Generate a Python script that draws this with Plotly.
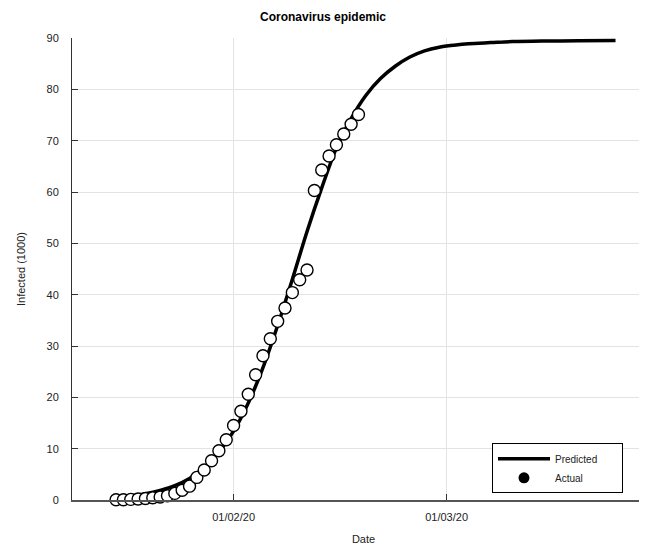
import plotly.graph_objects as go

# Actual cumulative infections (thousands), daily from 2020-01-16
actual_dates = ["2020-01-16", "2020-01-17", "2020-01-18", "2020-01-19", "2020-01-20",
                "2020-01-21", "2020-01-22", "2020-01-23", "2020-01-24", "2020-01-25",
                "2020-01-26", "2020-01-27", "2020-01-28", "2020-01-29", "2020-01-30",
                "2020-01-31", "2020-02-01", "2020-02-02", "2020-02-03", "2020-02-04",
                "2020-02-05", "2020-02-06", "2020-02-07", "2020-02-08", "2020-02-09",
                "2020-02-10", "2020-02-11", "2020-02-12", "2020-02-13", "2020-02-14",
                "2020-02-15", "2020-02-16", "2020-02-17", "2020-02-18"]
actual_values = [0.05, 0.06, 0.12, 0.2, 0.29, 0.44, 0.57, 0.83, 1.29, 1.9,
                 2.7, 4.4, 5.85, 7.66, 9.6, 11.75, 14.5, 17.3, 20.6, 24.4,
                 28.1, 31.4, 34.8, 37.4, 40.4, 42.9, 44.8, 60.3, 64.3, 67.0,
                 69.2, 71.3, 73.2, 75.1]

# Predicted curve (thousands)
pred_dates = ["2020-01-16", "2020-01-18", "2020-01-20", "2020-01-22", "2020-01-24",
              "2020-01-26", "2020-01-28", "2020-01-30", "2020-02-01", "2020-02-03",
              "2020-02-05", "2020-02-07", "2020-02-09", "2020-02-11", "2020-02-13",
              "2020-02-15", "2020-02-17", "2020-02-19", "2020-02-21", "2020-02-23",
              "2020-02-25", "2020-02-27", "2020-02-29", "2020-03-02", "2020-03-04",
              "2020-03-07", "2020-03-10", "2020-03-14", "2020-03-19", "2020-03-24"]
pred_values = [0.5, 0.8, 1.2, 1.85, 2.8, 4.2, 6.3, 9.3, 13.4, 18.9,
               25.8, 34.0, 43.0, 52.3, 60.8, 68.6, 74.3, 78.8, 82.1, 84.5,
               86.3, 87.5, 88.2, 88.6, 88.9, 89.1, 89.3, 89.4, 89.45, 89.5]

tick_vals = ["2020-02-01", "2020-03-01"]
tick_text = ["01/02/20", "01/03/20"]
y_ticks = [0, 10, 20, 30, 40, 50, 60, 70, 80, 90]

FONT = "Arial, Liberation Sans, sans-serif"
PAD = "\u00a0" * 7

fig = go.Figure()
fig.add_trace(go.Scatter(
    x=pred_dates, y=pred_values, mode="lines", name="Predicted" + PAD,
    line=dict(color="black", width=3.5, shape="spline", smoothing=0.8),
    cliponaxis=False,
))
fig.add_trace(go.Scatter(
    x=actual_dates, y=actual_values, mode="markers", name="Actual",
    marker=dict(symbol="circle", size=12, color="white",
                line=dict(color="black", width=1.4)),
    cliponaxis=False, showlegend=False,
))
# legend entry for Actual (filled dot, as in the reference legend)
fig.add_trace(go.Scatter(
    x=[None], y=[None], mode="markers", name="Actual",
    marker=dict(symbol="circle", size=11, color="black"),
))

# the page body has an 8px margin; margins below compensate for it
fig.update_layout(
    width=647, height=548,
    margin=dict(l=64, r=0, t=30, b=56),
    paper_bgcolor="white", plot_bgcolor="white",
    font=dict(family=FONT, size=11, color="#222222"),
    title=dict(text="<b>Coronavirus epidemic</b>", x=(323 - 8) / 647, xref="container",
               xanchor="center", y=0.9836, yanchor="middle",
               font=dict(size=12, color="black")),
    showlegend=True,
    legend=dict(x=0.7204, y=0.1227, xanchor="left", yanchor="top",
                bordercolor="black", borderwidth=1, bgcolor="white",
                font=dict(size=10, color="#222222"), itemwidth=52,
                tracegroupgap=0),
)
fig.update_xaxes(
    type="date", range=["2020-01-10", "2020-03-29 09:00"],
    tickvals=tick_vals, ticktext=tick_text,
    ticks="inside", ticklen=6, tickcolor="#333333",
    showline=True, linecolor="#555555", linewidth=1.5,
    showgrid=True, gridcolor="#e3e3e3", gridwidth=1,
    zeroline=False, ticklabelstandoff=6,
    title=dict(text="Date", font=dict(size=11), standoff=13),
)
fig.update_yaxes(
    range=[0, 90], tickvals=y_ticks,
    ticks="inside", ticklen=6, tickcolor="#333333",
    showline=True, linecolor="#333333", linewidth=1,
    showgrid=True, gridcolor="#e3e3e3", gridwidth=1,
    zeroline=False, ticklabelstandoff=10,
    title=dict(text="Infected (1000)", font=dict(size=11), standoff=18),
)

fig.write_html("out.html")
